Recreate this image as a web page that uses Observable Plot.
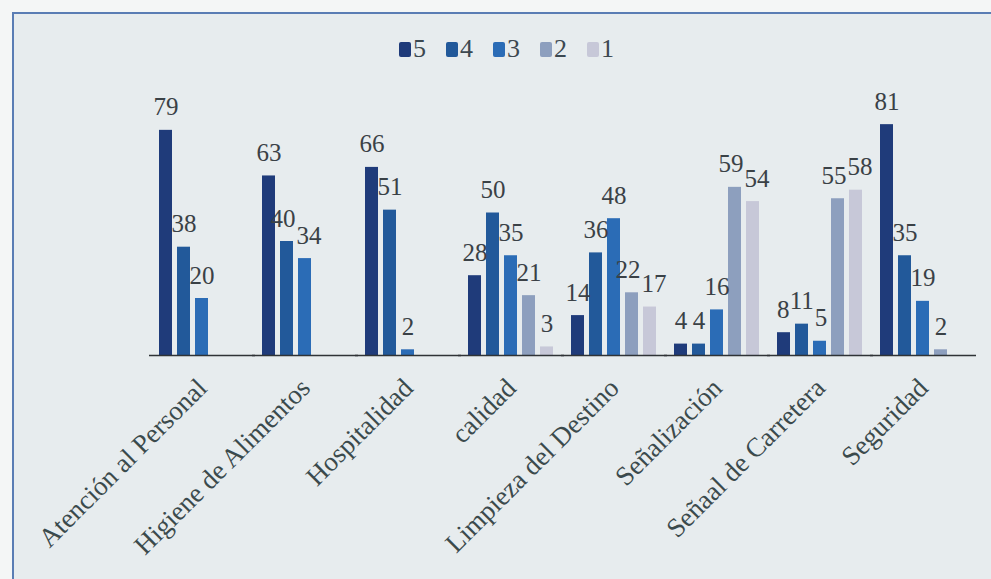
<!DOCTYPE html>
<html>
<head>
<meta charset="utf-8">
<script src="https://cdn.jsdelivr.net/npm/d3@7"></script>
<script src="https://cdn.jsdelivr.net/npm/@observablehq/plot@0.6"></script>
<style>
  html, body { margin: 0; padding: 0; background: #f4f6f6; }
  #frame { position: absolute; left: 12px; top: 12px; width: 979px; height: 567px;
           background: #e7ecee; border-top: 2px solid #5a7db4; border-left: 2px solid #5a7db4; box-sizing: border-box; }
  #chart { position: absolute; left: 0; top: 0; width: 991px; height: 579px; }
  #legend { height: 80px; box-sizing: border-box; padding-top: 36px; padding-left: 22px;
            display: flex; justify-content: center; align-items: flex-start;
            font-family: "Times New Roman", "Liberation Serif", serif; font-size: 26px; color: #3c4850; }
  .item { display: flex; align-items: center; height: 26px; margin: 0 10px; }
  .sw { width: 12px; height: 15px; margin-right: 2px; border-radius: 2px; }
  svg { display: block; }
</style>
</head>
<body>
<div id="frame"></div>
<div id="chart"><div id="legend"></div></div>
<script>
const categories = ["Atención al Personal", "Higiene de Alimentos", "Hospitalidad", "calidad",
                    "Limpieza del Destino", "Señalización", "Señaal de Carretera", "Seguridad"];
const seriesNames = ["5", "4", "3", "2", "1"];
const s5 = [79, 63, 66, 28, 14, 4, 8, 81];
const s4 = [38, 40, 51, 50, 36, 4, 11, 35];
const s3 = [20, 34, 2, 35, 48, 16, 5, 19];
const s2 = [null, null, null, 21, 22, 59, 55, 2];
const s1 = [null, null, null, 3, 17, 54, 58, null];
const seriesColors = ["#1f3b7a", "#22599a", "#2b6cb6", "#8d9fbe", "#c7c8d8"];

const serif = "'Times New Roman', 'Liberation Serif', serif";
const seriesValues = [s5, s4, s3, s2, s1];
const data = [];
categories.forEach((c, i) => {
  seriesNames.forEach((s, j) => {
    data.push({cat: c, s, v: seriesValues[j][i]});
  });
});
const present = data.filter(d => d.v != null);

// legend
const legend = document.getElementById("legend");
seriesNames.forEach((s, j) => {
  const it = document.createElement("div");
  it.className = "item";
  const sw = document.createElement("div");
  sw.className = "sw";
  sw.style.background = seriesColors[j];
  const t = document.createElement("span");
  t.textContent = s;
  it.appendChild(sw); it.appendChild(t);
  legend.appendChild(it);
});

const chart = Plot.plot({
  width: 991,
  height: 499,
  marginLeft: 148,
  marginRight: 15,
  marginTop: 18.5,
  marginBottom: 224,
  style: {background: "transparent", fontFamily: serif},
  fx: {domain: categories, paddingInner: 0.15, paddingOuter: 0.085, label: null},
  x: {domain: seriesNames, paddingInner: 0.26, paddingOuter: 0, axis: null},
  y: {domain: [0, 90], axis: null},
  color: {domain: seriesNames, range: seriesColors},
  marks: [
    Plot.barY(present, {fx: "cat", x: "s", y: "v", fill: "s"}),
    Plot.ruleY([0], {stroke: "#2f3336", strokeWidth: 1.6, insetLeft: -9, insetRight: -9}),
    Plot.text(present, {fx: "cat", x: "s", y: "v", text: d => String(d.v), dy: -15,
                        lineAnchor: "bottom", fontSize: 25, fontFamily: serif, fill: "#3a4146"}),
    Plot.axisFx({anchor: "bottom", tickRotate: -45, tickSize: 0, tickPadding: 28,
                 fontSize: 27, fontFamily: serif, fill: "#3b4a4c", label: null})
  ]
});
document.getElementById("chart").appendChild(chart);

// nudge neighbouring value labels apart where they collide (like the manual offsets in the source)
chart.querySelectorAll('g[aria-label="text"]').forEach(g => {
  const items = Array.from(g.querySelectorAll("text")).map(el => {
    const r = el.getBoundingClientRect();
    return {el, x0: r.left, x1: r.right, y0: r.top, y1: r.bottom, shift: 0};
  }).sort((a, b) => (a.x0 + a.x1) - (b.x0 + b.x1));
  for (let k = 1; k < items.length; k++) {
    const a = items[k - 1], c = items[k];
    if (a.y0 < c.y1 - 5 && c.y0 < a.y1 - 5) {
      const ov = (a.x1 + a.shift) + 1 - (c.x0 + c.shift);
      if (ov > 0) { a.shift -= ov / 2; c.shift += ov / 2; }
    }
  }
  items.forEach(it => {
    if (it.shift) {
      const prev = parseFloat(it.el.getAttribute("dx")) || 0;
      it.el.setAttribute("dx", prev + it.shift);
    }
  });
});
</script>
</body>
</html>
